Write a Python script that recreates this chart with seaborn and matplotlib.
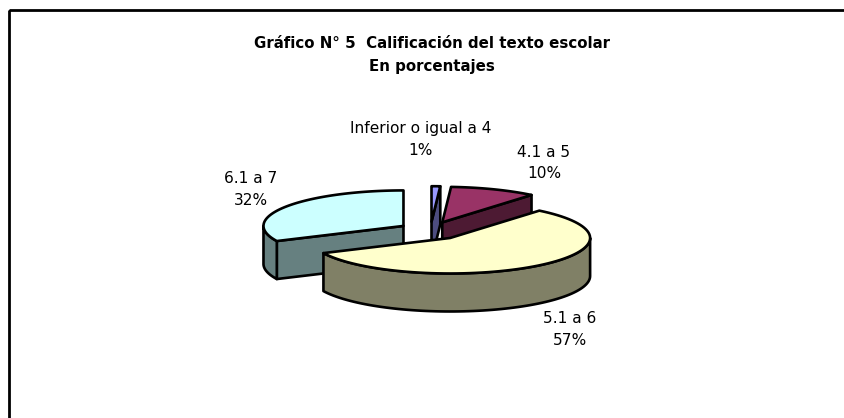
#!/usr/bin/env python3
import numpy as np
import matplotlib
matplotlib.use('Agg')
import matplotlib.pyplot as plt
from matplotlib.patches import Polygon, Rectangle
import seaborn as sns

# Data
categories = ['Inferior o igual a 4', '4.1 a 5', '5.1 a 6', '6.1 a 7']
values = [1, 10, 57, 32]
title_lines = ['Gráfico N° 5  Calificación del texto escolar', 'En porcentajes']

# Styling
sns.set_theme(style='white')
plt.rcParams['font.family'] = ['DejaVu Sans']
top_colors = sns.color_palette(['#9999FF', '#993366', '#FFFFCC', '#CCFFFF'])
side_colors = [tuple(c * 0.5 for c in col) for col in top_colors]
label_pos = [(420.5, 139.5), (544, 163), (570, 329.5), (251, 189.5)]

# Pie geometry, pixels
BASE_X, BASE_Y = 430.5, 230.8
RX, RY = 140, 35.5
DEPTH = 38
EXPLODE_X, EXPLODE_Y = 32, 9.1
EDGE = 1.9


def rim(cx, cy, a, b):
    t = np.radians(np.linspace(a, b, 80))
    return np.column_stack([cx + RX * np.sin(t), cy - RY * np.cos(t)])


fig = plt.figure(figsize=(8.44, 4.18), dpi=100)
ax = fig.add_axes([0, 0, 1, 1])
ax.set_xlim(0, 844)
ax.set_ylim(418, 0)
ax.axis('off')

# chart frame, only top and left fall inside the image
ax.add_patch(Rectangle((9, 10), 900, 500, fill=False, ec='black', lw=2))

# slice angles, clockwise from the top
edges = np.concatenate([[0], np.cumsum(values)]) / sum(values) * 360
slices = []
for i in range(len(values)):
    a, b = edges[i], edges[i + 1]
    mid = np.radians((a + b) / 2)
    cx = BASE_X + EXPLODE_X * np.sin(mid)
    cy = BASE_Y - EXPLODE_Y * np.cos(mid)
    slices.append((i, a, b, cx, cy))

# back slices first, the big one sits in front
for i, a, b, cx, cy in sorted(slices, key=lambda s: s[4]):
    kw = dict(fc=side_colors[i], ec='black', lw=EDGE, joinstyle='round')
    # cut faces that turn towards the viewer
    for ang, show in [(a, np.sin(np.radians(a)) < -1e-6), (b, np.sin(np.radians(b)) > 1e-6)]:
        if show:
            outer = rim(cx, cy, ang, ang)[0]
            ax.add_patch(Polygon([(cx, cy), outer, outer + [0, DEPTH], (cx, cy + DEPTH)], **kw))
    # outer wall on the front half
    lo, hi = max(a, 90), min(b, 270)
    if hi > lo:
        arc = rim(cx, cy, lo, hi)
        ax.add_patch(Polygon(np.vstack([arc, (arc + [0, DEPTH])[::-1]]), **kw))
    # top face
    top = np.vstack([[(cx, cy)], rim(cx, cy, a, b)])
    ax.add_patch(Polygon(top, fc=top_colors[i], ec='black', lw=EDGE, joinstyle='round'))

for (x, y), cat, val in zip(label_pos, categories, values):
    ax.text(x, y, f'{cat}\n{val}%', ha='center', va='center', fontsize=11.1,
            color='black', linespacing=1.55)

ax.text(432, 55, '\n'.join(title_lines), ha='center', va='center', fontsize=10.85,
        fontweight='bold', color='black', linespacing=1.6)

fig.savefig('out.png', dpi=100)
